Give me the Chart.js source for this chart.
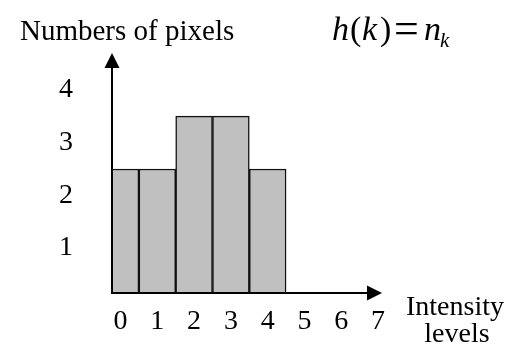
<!DOCTYPE html>
<html>
<head>
<meta charset="utf-8">
<script src="https://cdn.jsdelivr.net/npm/chart.js@4/dist/chart.umd.min.js"></script>
<style>
  html, body { margin: 0; padding: 0; background: #fff; }
  #wrap { width: 510px; height: 347px; position: relative; }
</style>
</head>
<body>
<div id="wrap"><canvas id="c"></canvas></div>
<script>
// Histogram of grey levels: h(k) = n_k
const intensityLevels = [0, 1, 2, 3, 4];
const pixelCounts = [2.5, 2.5, 3.5, 3.5, 2.5];
const xTickValues = [0, 1, 2, 3, 4, 5, 6, 7];
const yTickValues = [1, 2, 3, 4];

const SERIF = "'Liberation Serif', 'Times New Roman', serif";

// Axis lines with arrow heads, plus the free-standing labels and formula
const axesAndNotes = {
  id: 'axesAndNotes',
  afterDraw(chart) {
    const ctx = chart.ctx;
    const a = chart.chartArea;
    ctx.save();
    ctx.strokeStyle = '#000';
    ctx.fillStyle = '#000';
    ctx.lineWidth = 2;
    const head = 15, half = 7.5;

    // vertical axis
    ctx.beginPath();
    ctx.moveTo(a.left, a.bottom + 1);
    ctx.lineTo(a.left, a.top + head);
    ctx.stroke();
    ctx.beginPath();
    ctx.moveTo(a.left, a.top);
    ctx.lineTo(a.left - half, a.top + head);
    ctx.lineTo(a.left + half, a.top + head);
    ctx.closePath();
    ctx.fill();

    // horizontal axis
    ctx.beginPath();
    ctx.moveTo(a.left - 1, a.bottom);
    ctx.lineTo(a.right - head, a.bottom);
    ctx.stroke();
    ctx.beginPath();
    ctx.moveTo(a.right, a.bottom);
    ctx.lineTo(a.right - head, a.bottom - half);
    ctx.lineTo(a.right - head, a.bottom + half);
    ctx.closePath();
    ctx.fill();

    // axis captions
    ctx.textBaseline = 'alphabetic';
    ctx.font = '29px ' + SERIF;
    ctx.textAlign = 'left';
    ctx.fillText('Numbers of pixels', 20, 40);
    ctx.font = '28px ' + SERIF;
    ctx.textAlign = 'center';
    ctx.fillText('Intensity', 455, 315);
    ctx.fillText('levels', 457, 342);

    // formula h(k) = n_k
    ctx.textAlign = 'left';
    const it = 'italic 34px ' + SERIF;
    const up = '34px ' + SERIF;
    ctx.font = it; ctx.fillText('h', 332, 40);
    ctx.font = up; ctx.fillText('(', 350, 40);
    ctx.font = it; ctx.fillText('k', 362, 40);
    ctx.font = up; ctx.fillText(')', 380, 40);
    ctx.font = '44px ' + SERIF; ctx.fillText('=', 394, 43);
    ctx.font = it; ctx.fillText('n', 424, 40);
    ctx.font = 'italic 21px ' + SERIF; ctx.fillText('k', 440, 47);
    ctx.restore();
  }
};

new Chart(document.getElementById('c'), {
  type: 'bar',
  data: {
    datasets: [{
      data: intensityLevels.map((k, i) => ({ x: k, y: pixelCounts[i] })),
      backgroundColor: '#c0c0c0',
      borderColor: '#111',
      borderWidth: 1.5,
      borderSkipped: 'start',
      barPercentage: 1,
      categoryPercentage: 1,
      clip: 0
    }]
  },
  options: {
    responsive: true,
    maintainAspectRatio: false,
    animation: false,
    devicePixelRatio: 1,
    layout: { padding: { top: 53, right: 128, left: 0, bottom: 0 } },
    plugins: { legend: { display: false }, tooltip: { enabled: false } },
    scales: {
      x: {
        type: 'linear',
        offset: false,
        min: -0.231,
        max: 7.106,
        grid: { display: false, drawTicks: false, offset: false },
        border: { display: false },
        afterBuildTicks: s => { s.ticks = xTickValues.map(v => ({ value: v })); },
        afterFit: s => { s.height = 54; s.paddingTop = 0; s.paddingBottom = 0; },
        ticks: {
          padding: 12,
          color: '#000',
          font: { family: SERIF, size: 28 },
          callback: v => String(v)
        }
      },
      y: {
        min: 0.15,
        max: 4.697,
        grid: { display: false, drawTicks: false },
        border: { display: false },
        afterBuildTicks: s => { s.ticks = yTickValues.map(v => ({ value: v })); },
        afterFit: s => { s.width = 112; s.paddingTop = 0; s.paddingBottom = 0; },
        ticks: {
          padding: 39,
          color: '#000',
          font: { family: SERIF, size: 28 },
          callback: v => String(v)
        }
      }
    }
  },
  plugins: [axesAndNotes]
});
</script>
</body>
</html>
